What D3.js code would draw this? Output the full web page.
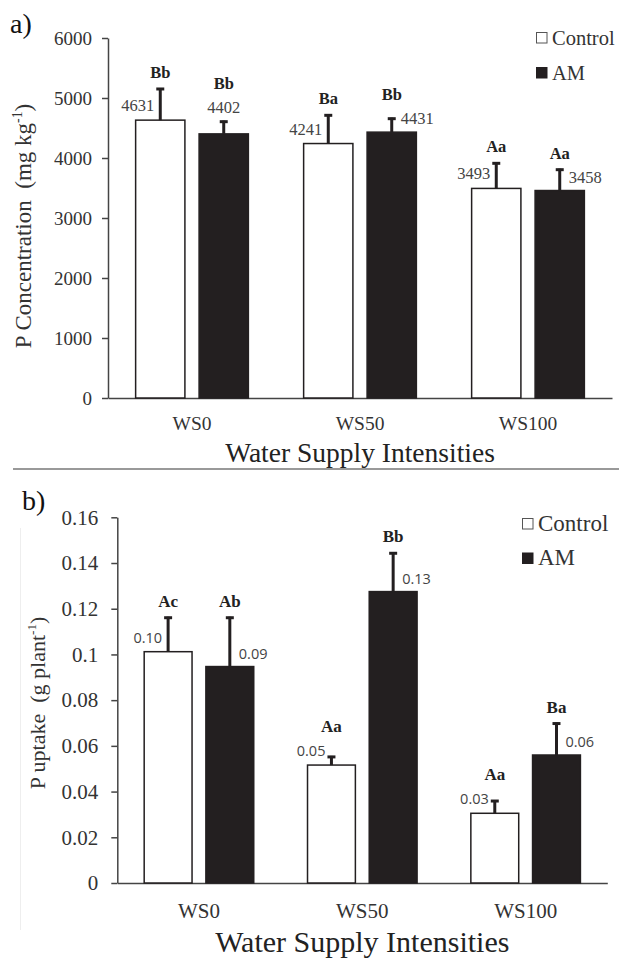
<!DOCTYPE html>
<html>
<head>
<meta charset="utf-8">
<script src="https://d3js.org/d3.v7.min.js"></script>
<style>
body { margin: 0; background: #fff; }
</style>
</head>
<body>
<svg width="619" height="961"></svg>
<script>
const categories = ["WS0", "WS50", "WS100"];
const series = ["Control", "AM"];

// a) P concentration (mg kg-1)
const concControl = [4631, 4241, 3493];
const concAM = [4402, 4431, 3458];
const concControlErr = [536, 487, 435];
const concAMErr = [220, 241, 364];
const concControlLetters = ["Bb", "Ba", "Aa"];
const concAMLetters = ["Bb", "Bb", "Aa"];
const concTicks = [0, 1000, 2000, 3000, 4000, 5000, 6000];

// b) P uptake (g plant-1)
const uptakeControl = [0.1012, 0.0516, 0.0305];
const uptakeAM = [0.0947, 0.1275, 0.0560];
const uptakeControlErr = [0.0153, 0.0040, 0.0058];
const uptakeAMErr = [0.0218, 0.0172, 0.0142];
const uptakeControlLetters = ["Ac", "Aa", "Aa"];
const uptakeAMLetters = ["Ab", "Bb", "Ba"];
const uptakeTicks = [0, 0.02, 0.04, 0.06, 0.08, 0.1, 0.12, 0.14, 0.16];

// which side of the error bar the number label sits on
const concControlSide = ["left", "left", "left"];
const concAMSide = ["top", "right", "right"];
const uptakeControlSide = ["left", "left", "left"];
const uptakeAMSide = ["right", "right", "right"];

const serif = '"Liberation Serif", "Times New Roman", serif';
const sans = '"Open Sans", "Noto Sans", sans-serif';
const dark = "#231f20";

var svg = d3.select("svg");

function drawPanel(p) {
  var rows = categories.map(function(c, i) {
    return {cat: c, bars: [
      {s: "Control", v: p.control[i], e: p.controlErr[i], l: p.controlLetters[i], side: p.controlSide[i]},
      {s: "AM", v: p.am[i], e: p.amErr[i], l: p.amLetters[i], side: p.amSide[i]}
    ]};
  });

  var y = d3.scaleLinear().domain([0, d3.max(p.ticks)]).range([p.bottom, p.top]);
  var x0 = d3.scaleBand().domain(categories).range([p.left, p.right]).paddingInner(0.32).paddingOuter(0.16);
  var x1 = d3.scaleBand().domain(series).range([0, x0.bandwidth()]).paddingInner(0.2);
  var fill = d3.scaleOrdinal().domain(series).range(["#ffffff", dark]);

  // y axis
  var ya = svg.append("g")
    .attr("transform", "translate(" + p.left + ",0)")
    .call(d3.axisLeft(y).tickValues(p.ticks).tickFormat(p.tickFormat)
      .tickSize(6).tickSizeOuter(0).tickPadding(p.tickPad));
  ya.attr("font-family", serif).attr("font-size", p.tickSize);
  ya.select(".domain").attr("stroke", "#444").attr("stroke-width", 1.5);
  ya.selectAll(".tick line").attr("stroke", "#444").attr("stroke-width", 1.5);
  ya.selectAll(".tick text").attr("fill", "#333");

  // x axis
  var xa = svg.append("g")
    .attr("transform", "translate(0," + p.bottom + ")")
    .call(d3.axisBottom(x0).tickSize(0).tickSizeOuter(0).tickPadding(p.catPad));
  xa.attr("font-family", serif).attr("font-size", p.catSize);
  xa.select(".domain").attr("stroke", "#444").attr("stroke-width", 1.5);
  xa.selectAll(".tick text").attr("fill", "#333");

  var groups = svg.append("g").selectAll("g")
    .data(rows)
    .enter()
    .append("g")
    .attr("transform", d => "translate(" + x0(d.cat) + ",0)");

  var bar = groups.selectAll("g.bar")
    .data(d => d.bars)
    .enter()
    .append("g")
    .attr("class", "bar");

  bar.append("rect")
    .attr("x", d => x1(d.s) + 0.75)
    .attr("y", d => y(d.v))
    .attr("width", x1.bandwidth() - 1.5)
    .attr("height", d => y(0) - y(d.v))
    .attr("fill", d => fill(d.s))
    .attr("stroke", dark)
    .attr("stroke-width", 1.5);

  // error bars
  var cx = d => x1(d.s) + x1.bandwidth() / 2;
  bar.append("line")
    .attr("x1", cx).attr("x2", cx)
    .attr("y1", d => y(d.v)).attr("y2", d => y(d.v + d.e))
    .attr("stroke", dark).attr("stroke-width", 3);
  bar.append("line")
    .attr("x1", d => cx(d) - 4).attr("x2", d => cx(d) + 4)
    .attr("y1", d => y(d.v + d.e) + 1).attr("y2", d => y(d.v + d.e) + 1)
    .attr("stroke", dark).attr("stroke-width", 3);

  // number labels
  function valX(d) {
    if (d.side == "left") return cx(d) - 6;
    if (d.side == "right") return cx(d) + 9;
    return cx(d);
  }
  function valY(d) {
    if (d.side == "left") return y(d.v) - 9;
    if (d.side == "right") return y(d.v) - 8;
    return y(d.v + d.e) - 8;
  }
  bar.append("text")
    .text(d => p.valFormat(d.v))
    .attr("x", valX)
    .attr("y", valY)
    .attr("text-anchor", d => d.side == "left" ? "end" : (d.side == "right" ? "start" : "middle"))
    .attr("font-family", p.valFont)
    .attr("font-size", p.valSize)
    .attr("fill", "#444");

  // significance letters
  bar.append("text")
    .text(d => d.l)
    .attr("x", cx)
    .attr("y", d => Math.min(y(d.v + d.e) - 10, valY(d) - 24))
    .attr("text-anchor", "middle")
    .attr("font-family", serif)
    .attr("font-weight", "bold")
    .attr("font-size", p.letterSize)
    .attr("fill", "#222");

  // axis titles
  svg.append("text")
    .text("Water Supply Intensities")
    .attr("x", (p.left + p.right) / 2)
    .attr("y", p.titleY)
    .attr("text-anchor", "middle")
    .attr("font-family", serif)
    .attr("font-size", p.titleSize)
    .attr("fill", "#222");

  var yl = svg.append("text")
    .attr("transform", "translate(" + p.ylabX + "," + p.ylabY + ") rotate(-90)")
    .attr("text-anchor", "middle")
    .attr("font-family", serif)
    .attr("font-size", p.ylabSize)
    .attr("fill", "#333");
  yl.append("tspan").text(p.ylab + "\u00a0\u00a0(" + p.unit);
  yl.append("tspan").text("-1").attr("font-size", p.ylabSize * 0.6).attr("dy", -p.ylabSize * 0.4);
  yl.append("tspan").text(")").attr("dy", p.ylabSize * 0.4);

  // legend
  var leg = svg.append("g")
    .attr("transform", "translate(" + p.legX + "," + p.legY + ")")
    .selectAll("g")
    .data(series)
    .enter()
    .append("g")
    .attr("transform", (d, i) => "translate(0," + i * p.legGap + ")");
  leg.append("rect")
    .attr("x", 0.5).attr("y", 0.5)
    .attr("width", 10.5).attr("height", 10.5)
    .attr("fill", d => fill(d))
    .attr("stroke", d => d == "Control" ? "#555" : dark)
    .attr("stroke-width", 1);
  leg.append("text")
    .text(d => d)
    .attr("x", 16)
    .attr("y", 12.5)
    .attr("font-family", serif)
    .attr("font-size", p.legSize)
    .attr("fill", "#333");

  svg.append("text")
    .text(p.tag)
    .attr("x", p.tagX)
    .attr("y", p.tagY)
    .attr("font-family", serif)
    .attr("font-size", 28)
    .attr("fill", "#111");
}

drawPanel({
  control: concControl, am: concAM,
  controlErr: concControlErr, amErr: concAMErr,
  controlLetters: concControlLetters, amLetters: concAMLetters,
  controlSide: concControlSide, amSide: concAMSide,
  ticks: concTicks, tickFormat: d3.format("d"), valFormat: d3.format("d"),
  left: 108, right: 612, top: 38, bottom: 398,
  tickSize: 19, tickPad: 10, catSize: 19.5, catPad: 18,
  valFont: serif, valSize: 16.5, letterSize: 16.5,
  titleY: 462, titleSize: 27.5,
  ylab: "P Concentration", unit: "mg kg", ylabX: 31, ylabY: 226, ylabSize: 23,
  legX: 536, legY: 32, legGap: 35, legSize: 20.5,
  tag: "a)", tagX: 10, tagY: 33
});

drawPanel({
  control: uptakeControl, am: uptakeAM,
  controlErr: uptakeControlErr, amErr: uptakeAMErr,
  controlLetters: uptakeControlLetters, amLetters: uptakeAMLetters,
  controlSide: uptakeControlSide, amSide: uptakeAMSide,
  ticks: uptakeTicks, tickFormat: d3.format("~g"), valFormat: d3.format(".2f"),
  left: 117.3, right: 607.3, top: 517.3, bottom: 883,
  tickSize: 21, tickPad: 13, catSize: 21, catPad: 20,
  valFont: sans, valSize: 14.5, letterSize: 17,
  titleY: 952, titleSize: 30,
  ylab: "P uptake", unit: "g plant", ylabX: 45, ylabY: 703, ylabSize: 22,
  legX: 522, legY: 518, legGap: 34.5, legSize: 23,
  tag: "b)", tagX: 22, tagY: 510
});

// divider between the two panels
svg.append("line")
  .attr("x1", 13).attr("x2", 619)
  .attr("y1", 469).attr("y2", 469)
  .attr("stroke", "#777").attr("stroke-width", 1.5);
svg.append("line")
  .attr("x1", 20.5).attr("x2", 20.5)
  .attr("y1", 528).attr("y2", 930)
  .attr("stroke", "#eee").attr("stroke-width", 1);
</script>
</body>
</html>
